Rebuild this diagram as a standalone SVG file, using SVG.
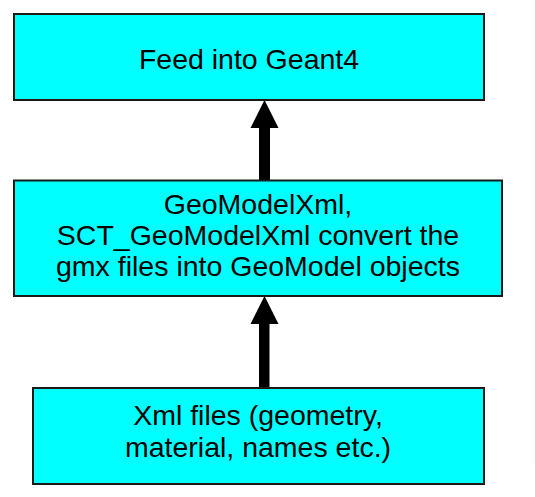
<svg xmlns="http://www.w3.org/2000/svg" width="535" height="497" viewBox="0 0 535 497">
<style>
.box{fill:#00ffff;stroke:#1a1a1a;stroke-width:2}
.lbl{font-family:"Liberation Sans",Arial,sans-serif;font-size:28.5px;fill:#000;text-anchor:middle}
.shaft{fill:#000}
</style>
<rect width="535" height="497" fill="#fff"/>
<line x1="533.5" y1="0" x2="533.5" y2="465" stroke="#f2fbfb" stroke-width="1"/>
<g id="connectors">
  <g id="arrow-mid-top">
    <rect class="shaft" x="259" y="127" width="11" height="53"/>
    <polygon class="shaft" points="264.5,100 250.5,128 278.5,128"/>
  </g>
  <g id="arrow-bottom-mid">
    <rect class="shaft" x="259" y="323" width="10.5" height="65"/>
    <polygon class="shaft" points="264.5,296 250.5,324 278.5,324"/>
  </g>
</g>
<g id="node-geant4">
  <rect class="box" x="14" y="14" width="470" height="86"/>
  <text class="lbl" x="249" y="69">Feed into Geant4</text>
</g>
<g id="node-geomodelxml">
  <rect class="box" x="14" y="180.5" width="488" height="115.5"/>
  <text class="lbl" x="258" y="213.5">GeoModelXml,</text>
  <text class="lbl" x="258" y="245">SCT_GeoModelXml convert the</text>
  <text class="lbl" x="258" y="276">gmx files into GeoModel objects</text>
</g>
<g id="node-xml">
  <rect class="box" x="33" y="388" width="451" height="96"/>
  <text class="lbl" x="258" y="425">Xml files (geometry,</text>
  <text class="lbl" x="258" y="457">material, names etc.)</text>
</g>
</svg>
